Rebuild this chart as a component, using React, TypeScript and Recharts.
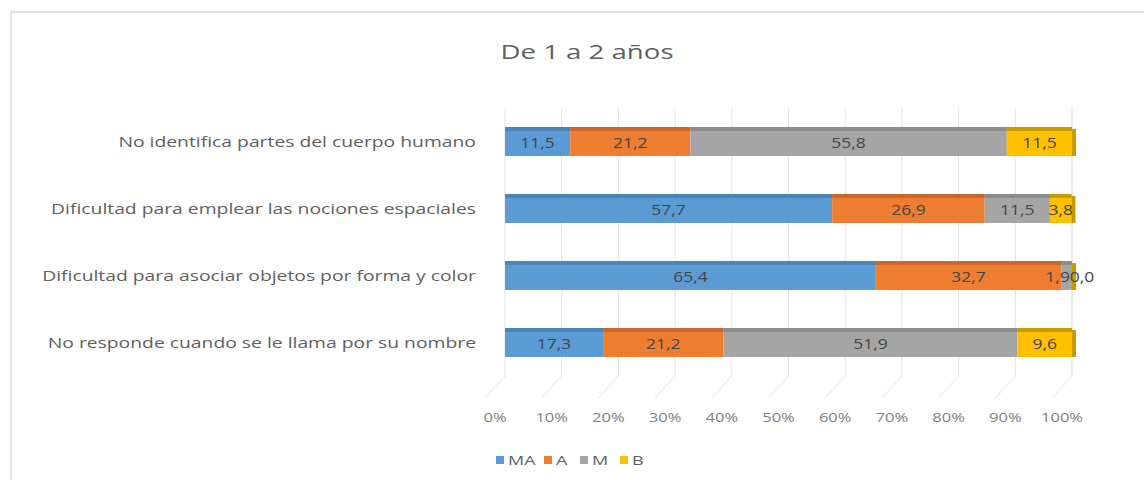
import { BarChart, Bar, XAxis, YAxis, CartesianGrid, LabelList } from 'recharts';

const categories = [
  'No identifica partes del cuerpo humano',
  'Dificultad para emplear las nociones espaciales',
  'Dificultad para asociar objetos por forma y color',
  'No responde cuando se le llama por su nombre',
];
const maValues = [11.5, 57.7, 65.4, 17.3];
const aValues = [21.2, 26.9, 32.7, 21.2];
const mValues = [55.8, 11.5, 1.9, 51.9];
const bValues = [11.5, 3.8, 0, 9.6];
const xTicks = [0, 10, 20, 30, 40, 50, 60, 70, 80, 90, 100];

const SERIES = [
  { key: 'MA', color: '#5b9bd5', top: '#4a84b8' },
  { key: 'A', color: '#ed7d31', top: '#c9682a' },
  { key: 'M', color: '#a5a5a5', top: '#8c8c8c' },
  { key: 'B', color: '#ffc000', top: '#c99a00' },
];

const FONT = '"Open Sans", "Liberation Sans", sans-serif';
const TEXT = '#5f5f5f';
const SX = 1.38; // the reference text is drawn wide

const data = categories.map((name, i) => ({
  name,
  MA: maValues[i],
  A: aValues[i],
  M: mValues[i],
  B: bValues[i],
}));

const fmt = (v: any) => Number(v).toFixed(1).replace('.', ',');

function Segment(props: any) {
  const { x, y, width, height, fill, topFill, last } = props;
  const w = Math.max(width, 0);
  return (
    <g>
      <rect x={x} y={y} width={w} height={height} fill={fill} />
      <rect x={x} y={y} width={w} height={4} fill={topFill} />
      {last && <rect x={x + w} y={y + 2} width={4} height={height - 2} fill={topFill} />}
    </g>
  );
}

function ValueLabel(props: any) {
  const { x, y, width, height, value, shift } = props;
  const cx = x + width / 2 + (width < 14 ? shift : 0);
  return (
    <text
      transform={`translate(${cx}, ${y + height / 2 + 6}) scale(1.25, 1)`}
      textAnchor="middle"
      fill="#454545"
      fontSize={14}
      fontFamily={FONT}
    >
      {fmt(value)}
    </text>
  );
}

function CatTick(props: any) {
  const { y, payload } = props;
  return (
    <text
      transform={`translate(476, ${y + 5}) scale(${SX}, 1)`}
      textAnchor="end"
      fill={TEXT}
      fontSize={14}
      fontFamily={FONT}
    >
      {payload.value}
    </text>
  );
}

function PctTick(props: any) {
  const { x, y, payload } = props;
  return (
    <g>
      <line x1={x} y1={y - 8} x2={x - 20} y2={y + 14} stroke="#e3e3e3" />
      <text
        transform={`translate(${x - 10}, ${y + 38}) scale(${SX}, 1)`}
        textAnchor="middle"
        fill="#808080"
        fontSize={12}
        fontFamily={FONT}
      >
        {payload.value}%
      </text>
    </g>
  );
}

export default function App() {
  return (
    <div style={{ position: 'absolute', left: 0, top: 0, width: 1144, height: 480, overflow: 'hidden', background: '#fff' }}>
      <div
        style={{
          position: 'absolute',
          left: 10,
          top: 11,
          width: 1200,
          height: 500,
          border: '2px solid #e3e3e3',
          boxSizing: 'border-box',
        }}
      />
      <div
        style={{
          position: 'absolute',
          left: 587,
          top: 38,
          transform: `translateX(-50%) scaleX(${SX})`,
          whiteSpace: 'nowrap',
          fontFamily: FONT,
          fontSize: 20,
          color: TEXT,
        }}
      >
        De 1 a 2 años
      </div>
      <div style={{ position: 'absolute', left: 0, top: 0 }}>
        <BarChart
          width={1144}
          height={480}
          data={data}
          layout="vertical"
          margin={{ top: 108, right: 72, bottom: 74, left: 0 }}
          barSize={29}
        >
          <CartesianGrid horizontal={false} stroke="#e3e3e3" />
          <XAxis
            type="number"
            domain={[0, 100]}
            ticks={xTicks}
            axisLine={false}
            tickLine={false}
            tick={<PctTick />}
            height={30}
            interval={0}
          />
          <YAxis
            type="category"
            dataKey="name"
            width={505}
            axisLine={false}
            tickLine={false}
            tick={<CatTick />}
          />
          {SERIES.map((s, i) => (
            <Bar
              key={s.key}
              dataKey={s.key}
              stackId="a"
              fill={s.color}
              isAnimationActive={false}
              shape={(p: any) => <Segment {...p} fill={s.color} topFill={s.top} last={i === SERIES.length - 1} />}
            >
              <LabelList
                dataKey={s.key}
                content={(p: any) => <ValueLabel {...p} shift={s.key === 'B' ? 10 : -9} />}
              />
            </Bar>
          ))}
        </BarChart>
      </div>
      <div
        style={{
          position: 'absolute',
          left: 496,
          top: 451,
          display: 'flex',
          fontFamily: FONT,
          fontSize: 13,
          color: TEXT,
        }}
      >
        {SERIES.map((s) => (
          <div key={s.key} style={{ display: 'flex', alignItems: 'center', marginRight: 10 }}>
            <span style={{ width: 8, height: 8, background: s.color, display: 'inline-block', marginRight: 4 }} />
            <span style={{ display: 'inline-block', transform: `scaleX(${SX})`, transformOrigin: 'left center', marginRight: 6 }}>
              {s.key}
            </span>
          </div>
        ))}
      </div>
    </div>
  );
}
